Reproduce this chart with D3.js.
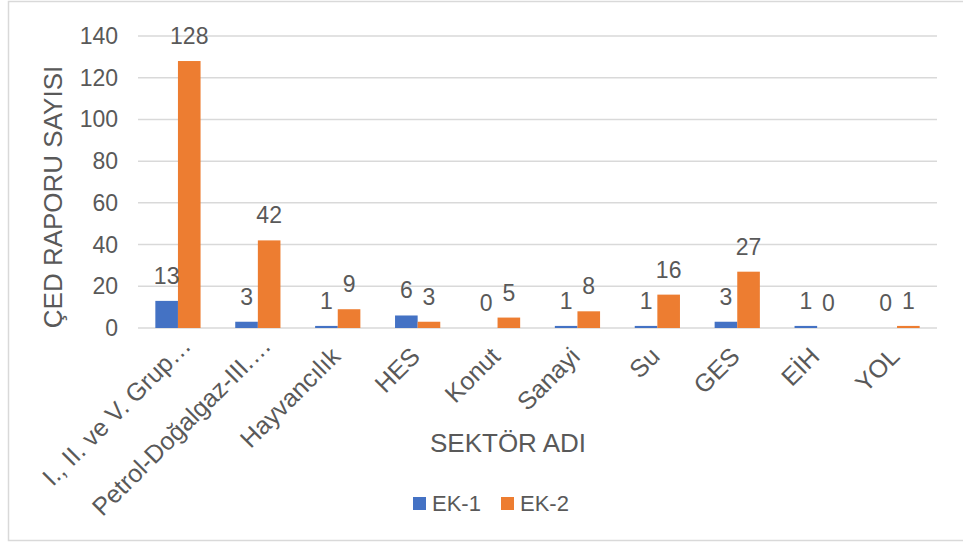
<!DOCTYPE html>
<html>
<head>
<meta charset="utf-8">
<script src="https://cdn.jsdelivr.net/npm/d3@7"></script>
<style>
  body { margin: 0; background: #fff; }
  text { font-family: "Liberation Sans", Arial, sans-serif; fill: #595959; }
</style>
</head>
<body>
<div id="chart"></div>
<script>
// Data
const categories = ["I., II. ve V. Grup…", "Petrol-Doğalgaz-III.…", "Hayvancılık", "HES", "Konut",
                    "Sanayi", "Su", "GES", "EİH", "YOL"];
const seriesNames = ["EK-1", "EK-2"];
const ek1 = [13, 3, 1, 6, 0, 1, 1, 3, 1, 0];
const ek2 = [128, 42, 9, 3, 5, 8, 16, 27, 0, 1];
const yTicks = [0, 20, 40, 60, 80, 100, 120, 140];

const colors = { "EK-1": "#4472C4", "EK-2": "#ED7D31" };

const width = 963, height = 544;
const plot = { left: 138, right: 937, top: 36, bottom: 328 };

const svg = d3.select("#chart").append("svg")
    .attr("width", width)
    .attr("height", height);

// chart border
svg.append("rect")
    .attr("x", 8.5).attr("y", 1.5)
    .attr("width", 960).attr("height", 539)
    .attr("fill", "none")
    .attr("stroke", "#d9d9d9")
    .attr("stroke-width", 1.5);

const x0 = d3.scaleBand()
    .domain(categories)
    .range([plot.left, plot.right])
    .paddingInner(0.434)
    .paddingOuter(0.217);

const x1 = d3.scaleBand()
    .domain(seriesNames)
    .range([0, x0.bandwidth()]);

const y = d3.scaleLinear()
    .domain([0, 140])
    .range([plot.bottom, plot.top]);

// gridlines
svg.append("g")
    .selectAll("line")
    .data(yTicks)
    .enter().append("line")
    .attr("x1", plot.left)
    .attr("x2", plot.right)
    .attr("y1", d => y(d))
    .attr("y2", d => y(d))
    .attr("stroke", "#d9d9d9")
    .attr("stroke-width", 1.5);

// y tick labels
svg.append("g")
    .selectAll("text")
    .data(yTicks)
    .enter().append("text")
    .attr("x", 118)
    .attr("y", d => y(d) + 8)
    .attr("text-anchor", "end")
    .attr("font-size", "23px")
    .text(d => d);

// bars
const rows = categories.map((c, i) => ({ cat: c, values: [
    { key: "EK-1", value: ek1[i] },
    { key: "EK-2", value: ek2[i] }
] }));

const groups = svg.append("g")
    .selectAll("g")
    .data(rows)
    .enter().append("g")
    .attr("transform", d => `translate(${x0(d.cat)},0)`);

groups.selectAll("rect")
    .data(d => d.values)
    .enter().append("rect")
    .attr("x", d => x1(d.key))
    .attr("width", x1.bandwidth())
    .attr("y", d => y(d.value))
    .attr("height", d => y(0) - y(d.value))
    .attr("fill", d => colors[d.key]);

// data labels
groups.selectAll("text")
    .data(d => d.values)
    .enter().append("text")
    .attr("x", d => x1(d.key) + x1.bandwidth() / 2)
    .attr("y", d => y(d.value) - 17)
    .attr("text-anchor", "middle")
    .attr("font-size", "23px")
    .attr("fill", "#404040")
    .text(d => d.value);

// category labels, rotated (truncated ones sit a bit further along)
svg.append("g")
    .selectAll("text")
    .data(categories)
    .enter().append("text")
    .attr("transform", d => `translate(${x0(d) + x0.bandwidth() / 2 + 4},358) rotate(-45)`)
    .attr("dx", d => d.endsWith("…") ? 15 : 0)
    .attr("text-anchor", "end")
    .attr("font-size", "25px")
    .text(d => d);

// axis titles
svg.append("text")
    .attr("x", 508)
    .attr("y", 452)
    .attr("text-anchor", "middle")
    .attr("font-size", "26px")
    .text("SEKTÖR ADI");

svg.append("text")
    .attr("transform", "translate(62,197) rotate(-90)")
    .attr("text-anchor", "middle")
    .attr("font-size", "26px")
    .text("ÇED RAPORU SAYISI");

// legend
const legendX = [413, 501];
const legend = svg.append("g")
    .selectAll("g")
    .data(seriesNames)
    .enter().append("g")
    .attr("transform", (d, i) => `translate(${legendX[i]},497)`);

legend.append("rect")
    .attr("width", 13)
    .attr("height", 13)
    .attr("fill", d => colors[d]);

legend.append("text")
    .attr("x", 19)
    .attr("y", 14)
    .attr("font-size", "22px")
    .text(d => d);
</script>
</body>
</html>
